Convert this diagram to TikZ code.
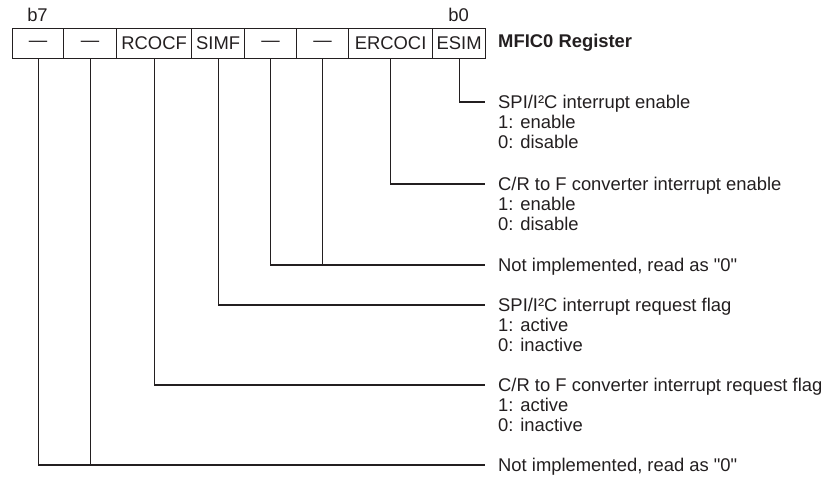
\documentclass[tikz,border=0pt]{standalone}
\usepackage{fontspec}
\setmainfont{Liberation Sans}[Ligatures=TeXOff]
\definecolor{ink}{HTML}{231F20}
\begin{document}
\begin{tikzpicture}[x=1pt,y=-1pt,
  every node/.style={font=\fontsize{18.4}{20}\selectfont, text=ink},
  cell/.style={draw=ink, line width=1.2pt, minimum height=30pt, inner sep=0pt, anchor=north west},
  wire/.style={draw=ink, line width=1.1pt},
  desc/.style={anchor=base west, inner sep=0pt}
]
\useasboundingbox (0,0) rectangle (830,479);
% register cells
\node[cell, minimum width=51pt] (c7) at (12,28) {—};
\node[cell, minimum width=53pt] (c6) at (63,28) {—};
\node[cell, minimum width=75pt] (c5) at (116,28) {RCOCF};
\node[cell, minimum width=53pt] (c4) at (191,28) {SIMF};
\node[cell, minimum width=52pt] (c3) at (244,28) {—};
\node[cell, minimum width=52pt] (c2) at (296,28) {—};
\node[cell, minimum width=84pt] (c1) at (348,28) {ERCOCI};
\node[cell, minimum width=53pt] (c0) at (432,28) {ESIM};
\node[anchor=base, inner sep=0pt] (b7) at (37.5,21) {b7};
\node[anchor=base, inner sep=0pt] (b0) at (458.5,21) {b0};
\node[anchor=west, inner sep=0pt, font=\fontsize{18.4}{20}\selectfont\bfseries] (title) at (498,43) {MFIC0 Register};
% end points
\coordinate (e0) at (485,102);
\coordinate (e1) at (485,184);
\coordinate (e2) at (485,265);
\coordinate (e3) at (485,305);
\coordinate (e4) at (485,385);
\coordinate (e5) at (485,465);
% connectors
\draw[wire] (c0.south) |- (e0);
\draw[wire] (c1.south) |- (e1);
\draw[wire] (c3.south) |- (e2);
\draw[wire] (c2.south) |- (e2);
\draw[wire] (c4.south) |- (e3);
\draw[wire] (c5.south) |- (e4);
\draw[wire] (c7.south) |- (e5);
\draw[wire] (c6.south) |- (e5);
% descriptions
\node[desc] (d0a) at (498,108) {SPI/I²C interrupt enable};
\node[desc] (d0b) at (498,128) {1: enable};
\node[desc] (d0c) at (498,148) {0: disable};
\node[desc] (d1a) at (498,190) {C/R to F converter interrupt enable};
\node[desc] (d1b) at (498,210) {1: enable};
\node[desc] (d1c) at (498,230) {0: disable};
\node[desc] (d2a) at (498,271) {Not implemented, read as "0"};
\node[desc] (d3a) at (498,311) {SPI/I²C interrupt request flag};
\node[desc] (d3b) at (498,331) {1: active};
\node[desc] (d3c) at (498,351) {0: inactive};
\node[desc] (d4a) at (498,391) {C/R to F converter interrupt request flag};
\node[desc] (d4b) at (498,411) {1: active};
\node[desc] (d4c) at (498,431) {0: inactive};
\node[desc] (d5a) at (498,471) {Not implemented, read as "0"};
\end{tikzpicture}
\end{document}
